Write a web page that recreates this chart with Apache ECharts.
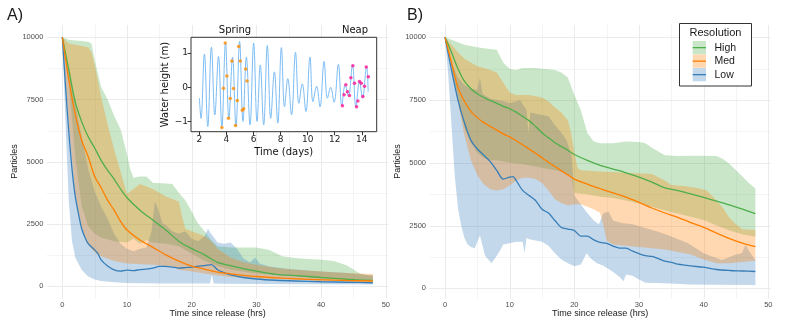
<!DOCTYPE html>
<html>
<head>
<meta charset="utf-8">
<script src="https://cdn.jsdelivr.net/npm/echarts/dist/echarts.min.js"></script>
<style>
  html, body { margin: 0; padding: 0; background: #fff; }
  #chart { width: 793px; height: 326px; }
</style>
</head>
<body>
<div id="chart"></div>
<script>
// grid ticks
const xMajor = [0, 10, 20, 30, 40, 50];
const xMinor = [5, 15, 25, 35, 45];
const yMajor = [0, 2500, 5000, 7500, 10000];
const yMinor = [1250, 3750, 6250, 8750];
const dayTicks = [2, 4, 6, 8, 10, 12, 14];
const heightTicks = [-1, 0, 1];

// panel A: mean lines [hours, particles]
const highLineA = [[0,10000],[1,8700],[2,7400],[3,6600],[4,6000],[5,5550],[6,5050],[7,4650],[8,4300],[9,3900],[10,3550],[12,3050],[14,2650],[16,2250],[18,1800],[20,1500],[22,1250],[24,950],[26,820],[28,700],[30,600],[33,470],[36,420],[40,340],[44,270],[48,220]];
const medLineA = [[0,10000],[1,8300],[2,6900],[3,5850],[4,5200],[5,4400],[6,3950],[7,3450],[8,3050],[9,2600],[10,2250],[12,1850],[14,1550],[16,1250],[18,1000],[20,800],[22,680],[24,560],[26,490],[28,430],[30,380],[33,330],[36,290],[40,250],[44,220],[48,200]];
const lowLineA = [[0,10000],[0.5,8000],[1,6200],[1.5,4700],[2,3600],[2.5,2900],[3,2300],[3.5,1950],[4,1700],[5,1450],[5.5,1300],[6,1050],[7,800],[8,650],[9,600],[10,640],[11,620],[12,660],[13,680],[14,720],[15,790],[16,790],[17,760],[18,720],[19,740],[20,760],[21,800],[22,820],[23,860],[23.5,780],[24,650],[25,540],[26,450],[28,340],[30,280],[33,230],[36,200],[40,170],[44,150],[48,130]];

// panel A: ribbons
const highHiA = [[0,10000],[1,9900],[2,9870],[3,9850],[4,9820],[4.5,9750],[5,9100],[6,8000],[7,7500],[8,6850],[9,6300],[10,5300],[10.5,4700],[11,4350],[12,4400],[13,4400],[14,4150],[16,4120],[17,4100],[18,3750],[19,3450],[20,3000],[21,2500],[22,2200],[23,1850],[24,1600],[26,1550],[28,1550],[30,1550],[32,1450],[34,1200],[36,1120],[38,1080],[40,1050],[42,1000],[44,820],[46,500],[47,430],[48,420]];
const highLoA = [[0,10000],[1,8200],[2,5200],[3,3200],[4,2400],[5,2100],[6,1950],[8,1800],[10,1750],[11,1900],[12,1700],[13,1850],[14,1750],[16,1700],[18,1600],[20,1300],[22,1000],[24,800],[26,650],[30,500],[35,400],[40,320],[48,250]];
const medHiA = [[0,10000],[1,9750],[2,9700],[3,9650],[4,9600],[4.5,9400],[5,8900],[6,7600],[7,6500],[8,5500],[9,4600],[10,3700],[11,3900],[12,4100],[13,4000],[14,3900],[15,3750],[16,3600],[17,3500],[18,3400],[18.5,2800],[19,2300],[20,2200],[21,2100],[22,2000],[23,1800],[24,1500],[26,1150],[28,950],[30,850],[33,720],[36,650],[40,580],[44,520],[48,480]];
const medLoA = [[0,10000],[1,6500],[2,3700],[3,2300],[4,1650],[5,1350],[6,1200],[8,1000],[10,900],[14,850],[17,780],[18,650],[20,580],[22,500],[24,420],[26,360],[30,300],[36,250],[40,220],[48,180]];
const lowHiA = [[0,10000],[1,8700],[2,7300],[3,6000],[4,4700],[5,3800],[6,3200],[7,2700],[8,2100],[9,1700],[10,1500],[11,1400],[12,1500],[13,1550],[13.8,2200],[14.3,3400],[14.8,3100],[15.5,2500],[16,2450],[17,2200],[18,2100],[19,2200],[20,1900],[21,1800],[22,2000],[22.5,2300],[23,2100],[24,1750],[25,1700],[26,1750],[27,1500],[28,1100],[29,950],[29.8,1150],[30.5,900],[32,780],[35,680],[40,580],[44,520],[48,420]];
const lowLoA = [[0,10000],[0.5,6500],[1,3400],[1.5,1800],[2,1150],[3,640],[4,380],[5,260],[6,200],[8,150],[10,120],[15,100],[20,100],[22.8,100],[23.1,450],[23.4,100],[25,90],[30,80],[40,70],[48,60]];

// panel B: mean lines
const highLineB = [[0,10000],[1,9400],[2,8750],[3,8250],[4,7950],[5,7750],[6,7600],[7,7480],[8,7370],[9,7250],[10,7150],[11,7020],[12,6850],[13,6680],[14,6450],[15,6200],[16,6000],[17,5800],[18,5650],[19,5500],[20,5330],[22,5100],[24,4900],[26,4750],[28,4600],[30,4430],[32,4230],[34,4000],[36,3890],[38,3760],[40,3620],[42,3470],[44,3320],[46,3150],[48,2980]];
const medLineB = [[0,10000],[1,9000],[2,8000],[3,7450],[4,7050],[5,6800],[6,6600],[7,6450],[8,6300],[9,6150],[10,6030],[11,5880],[12,5720],[13,5550],[14,5380],[15,5200],[16,5020],[17,4850],[18,4680],[19,4520],[20,4350],[22,4150],[24,3970],[26,3800],[28,3630],[30,3420],[32,3200],[34,3000],[36,2830],[38,2620],[40,2430],[42,2200],[44,1980],[46,1800],[48,1660]];
const lowLineB = [[0,10000],[1,8700],[2,7500],[3,6600],[4,5900],[5,5550],[6,5300],[7,5050],[8,4700],[9,4350],[10,4430],[10.5,4450],[11,4300],[12,3900],[13,3700],[14,3500],[15,3150],[16,3000],[17,2700],[18,2420],[19,2360],[20,2300],[21,2080],[22,2080],[23,1930],[24,1830],[25,1790],[26,1680],[27,1600],[28,1600],[29,1480],[30,1380],[31,1300],[32,1270],[33,1180],[34,1080],[35,1030],[36,960],[38,890],[40,840],[42,750],[44,710],[46,690],[48,670]];

// panel B: ribbons
const highHiB = [[0,10000],[1,9900],[2,9800],[3,9700],[4,9650],[5,9600],[6,9560],[7,9530],[8,9500],[8.5,9250],[9,9000],[10,8750],[11,8700],[12,8780],[14,8780],[16,8730],[17,8700],[18,8600],[19,8400],[20,7700],[21,7100],[22,6200],[23,5850],[24,5780],[26,5780],[28,5850],[30,5830],[31,5780],[32,5600],[33,5450],[34,5300],[36,5270],[38,5280],[40,5280],[42,5270],[43,5150],[44,4950],[45,4700],[46,4450],[47,4200],[48,3980]];
const highLoB = [[0,10000],[1,8800],[2,7500],[3,6400],[4,5800],[5,5400],[6,5200],[7,5100],[8,5100],[9,5050],[10,5000],[12,4950],[14,4850],[16,4750],[18,4650],[19.5,4500],[20,3800],[22,3750],[24,3650],[26,3600],[28,3500],[30,3380],[32,3250],[34,3100],[36,2980],[38,2850],[40,2720],[42,2500],[44,2300],[46,2150],[48,2050]];
const medHiB = [[0,10000],[1,9700],[2,9400],[3,9150],[4,9000],[5,8850],[6,8780],[7,8700],[8,8600],[9,8200],[10,7800],[11,7700],[13,7700],[15,7600],[16,7450],[17,7200],[18,7000],[19,6700],[19.5,6200],[20,5400],[20.5,4800],[21,4700],[24,4650],[28,4600],[32,4550],[34,4300],[35,4120],[37,4080],[39,4000],[40.5,3900],[42,3500],[43,3200],[44,2800],[45,2550],[46,2350],[48,2320]];
const medLoB = [[0,10000],[1,8800],[2,7400],[3,6100],[4,5100],[5,4500],[6,4150],[7,3950],[8,3900],[9,3950],[10,4100],[11,4300],[12,4400],[13,4400],[14,4350],[15,4200],[16,3900],[17,3550],[18,3400],[19,3300],[20,3350],[21,3350],[22,3250],[23,3150],[24,3000],[24.5,2500],[25,1900],[26,1750],[28,1700],[30,1650],[32,1600],[34,1550],[36,1450],[38,1350],[40,1150],[42,1000],[44,1000],[46,1050],[48,1100]];
const lowHiB = [[0,10000],[0.5,9500],[1,9000],[2,8400],[3,8100],[4,7950],[5,7900],[5.4,8400],[5.8,7750],[7,7550],[8,7500],[9,7450],[10,7370],[11,7450],[11.6,7500],[12.6,7100],[12.9,6200],[13.2,7000],[14,6950],[15,6900],[16,6850],[17,6500],[18,6200],[18.8,5900],[19.6,5250],[20,3700],[21,3350],[22,3000],[23,2700],[23.8,2550],[24.5,3000],[25.3,3050],[26,2700],[27.3,2600],[29,2550],[31,2400],[33,2250],[35,2060],[37.6,1800],[40,1400],[42.8,1130],[44,1250],[45,1350],[45.9,1400],[46.5,1750],[47,1500],[48,1130]];
const lowLoB = [[0,10000],[0.5,8500],[1,6500],[1.5,4500],[2,3200],[2.5,2500],[3,2000],[3.5,1750],[4,1650],[4.6,1600],[5.4,2100],[6.2,1300],[7.2,1000],[8,1300],[8.5,1500],[9,1750],[10,1800],[11,1850],[12,1850],[12.3,1400],[12.6,2000],[13,1950],[14,1900],[15,1850],[16,1700],[17,1400],[18,1150],[19,1000],[20,880],[21,950],[21.9,1400],[22.5,1200],[23.5,1000],[24.5,900],[26,650],[27,450],[27.6,280],[28,550],[29,500],[30,350],[31,220],[34,200],[38,150],[42,140],[48,130]];

// inset: water height [days, m] at turning points, and sampled points
const tideCurve = [[2.00,-0.32],[2.12,-0.91],[2.37,0.97],[2.62,-1.15],[2.89,1.17],[3.14,-0.81],[3.41,0.90],[3.66,-1.15],[3.93,1.29],[4.18,-0.91],[4.45,0.88],[4.70,-1.15],[4.97,1.34],[5.22,-1.00],[5.47,0.88],[5.74,-1.10],[6.01,1.29],[6.26,-1.00],[6.50,0.65],[6.75,-1.10],[7.02,1.22],[7.27,-0.91],[7.54,0.45],[7.79,-1.05],[8.06,1.16],[8.29,-0.57],[8.53,0.25],[8.81,-0.81],[9.10,1.02],[9.35,-0.47],[9.60,0.10],[9.87,-0.71],[10.17,0.88],[10.39,-0.42],[10.66,0.03],[10.91,-0.57],[11.21,0.75],[11.46,-0.32],[11.70,0.00],[11.95,-0.44],[12.27,0.67],[12.52,-0.54],[12.77,0.07],[13.01,-0.27],[13.31,0.65],[13.56,-0.57],[13.83,0.17],[14.05,-0.32],[14.35,0.60],[14.47,-0.13]];
const springPts = [[3.66,-1.18],[3.78,-0.03],[3.91,1.29],[4.03,0.33],[4.15,-0.91],[4.28,-0.33],[4.40,0.77],[4.52,-0.04],[4.67,-1.12],[4.80,-0.39],[4.90,1.19],[5.02,0.77],[5.17,-0.67],[5.27,-0.63],[5.42,0.53],[5.52,0.18]];
const neapPts = [[12.57,-0.54],[12.69,-0.22],[12.82,0.07],[12.94,-0.13],[13.09,-0.24],[13.19,0.28],[13.34,0.63],[13.46,0.12],[13.61,-0.57],[13.71,-0.40],[13.83,0.17],[13.96,0.12],[14.08,-0.27],[14.20,0.03],[14.33,0.59],[14.48,0.31]];

const GREEN = '#4daf4a', ORANGE = '#ff7f00', BLUE = '#377eb8';
const FILL = { g: 'rgba(77,175,74,0.3)', o: 'rgba(255,127,0,0.3)', b: 'rgba(55,126,184,0.3)' };
const SANS = '"Liberation Sans", Arial, sans-serif';
const DEJAVU = '"DejaVu Sans", sans-serif';

const chart = echarts.init(document.getElementById('chart'), null, { renderer: 'canvas' });

const gridLines = (gi, vals, vertical, color) => ({
  type: 'custom', xAxisIndex: gi, yAxisIndex: gi, z: 1, silent: true,
  data: vals.map((v) => (vertical ? [v, 0] : [0, v])),
  renderItem: (params, api) => {
    const cs = params.coordSys;
    const p = api.coord([api.value(0), api.value(1)]);
    if (vertical) {
      const x = Math.round(p[0]) + 0.5;
      return { type: 'line', shape: { x1: x, y1: cs.y, x2: x, y2: cs.y + cs.height }, style: { stroke: color, lineWidth: 1 } };
    }
    const y = Math.round(p[1]) + 0.5;
    return { type: 'line', shape: { x1: cs.x, y1: y, x2: cs.x + cs.width, y2: y }, style: { stroke: color, lineWidth: 1 } };
  },
});

const band = (gi, hi, lo, fill) => {
  const ring = hi.concat(lo.slice().reverse());
  return {
    type: 'custom', xAxisIndex: gi, yAxisIndex: gi, z: 2, silent: true,
    data: ring,
    renderItem: (params, api) => {
      if (params.dataIndex !== 0) return null;
      return { type: 'polygon', shape: { points: ring.map((p) => api.coord(p)) }, style: { fill: fill } };
    },
  };
};

const meanLine = (gi, data, color) => ({
  type: 'line', xAxisIndex: gi, yAxisIndex: gi, z: 3, silent: true,
  data: data, showSymbol: false, symbol: 'none', smooth: 0.3,
  lineStyle: { color: color, width: 1.3 },
});

const mainX = (gi, min, max) => ({
  gridIndex: gi, type: 'value', min: min, max: max,
  axisLine: { show: false, onZero: false }, axisTick: { show: false }, splitLine: { show: false },
  axisLabel: { customValues: xMajor, color: '#4d4d4d', fontSize: 7.5, fontFamily: SANS, margin: 3,
    formatter: (v) => String(v) },
});
const mainY = (gi, min, max) => ({
  gridIndex: gi, type: 'value', min: min, max: max,
  axisLine: { show: false, onZero: false }, axisTick: { show: false }, splitLine: { show: false },
  axisLabel: { customValues: yMajor, color: '#4d4d4d', fontSize: 7.5, fontFamily: SANS, margin: 3.5,
    formatter: (v) => String(v) },
});

const txt = (text, x, y, size, opts) => Object.assign({
  type: 'text', x: x, y: y, z: 20,
  style: { text: text, fill: '#1a1a1a', font: size + 'px ' + SANS, align: 'center', verticalAlign: 'middle', textAlign: 'center', textVerticalAlign: 'middle' },
}, opts || {});
const dtxt = (text, x, y, opts) => Object.assign({
  type: 'text', x: x, y: y, z: 20,
  style: { text: text, fill: '#111', font: '10px ' + DEJAVU, align: 'center', verticalAlign: 'middle', textAlign: 'center', textVerticalAlign: 'middle' },
}, opts || {});

const legendItems = [['High', GREEN, FILL.g], ['Med', ORANGE, FILL.o], ['Low', BLUE, FILL.b]];
const legendGraphics = [
  { type: 'rect', z: 20, shape: { x: 679.5, y: 23.5, width: 72, height: 62.5 }, style: { fill: '#fff', stroke: '#333', lineWidth: 1 } },
  txt('Resolution', 715.5, 33, 11),
];
legendItems.forEach((it, i) => {
  const y0 = 41 + i * 13.5;
  legendGraphics.push({ type: 'rect', z: 21, shape: { x: 692.7, y: y0, width: 13.3, height: 13.3 }, style: { fill: it[2] } });
  legendGraphics.push({ type: 'line', z: 22, shape: { x1: 692.7, y1: y0 + 6.65, x2: 706, y2: y0 + 6.65 }, style: { stroke: it[1], lineWidth: 1.3 } });
  legendGraphics.push({ type: 'text', x: 714.5, y: y0 + 7, z: 22,
    style: { text: it[0], fill: '#1a1a1a', font: '10.5px ' + SANS, align: 'left', verticalAlign: 'middle', textAlign: 'left', textVerticalAlign: 'middle' } });
});

chart.setOption({
  animation: false,
  backgroundColor: '#fff',
  grid: [
    { left: 46.8, top: 24.9, width: 341.6, height: 273.5 },
    { left: 429.5, top: 24.9, width: 341.4, height: 273.5 },
    { left: 191, top: 37.3, width: 185.7, height: 94.4, show: true, backgroundColor: '#fff', borderColor: '#333', borderWidth: 1, z: 5 },
  ],
  xAxis: [
    mainX(0, -2.4, 50.4),
    mainX(1, -2.4, 50.4),
    {
      gridIndex: 2, type: 'value', min: 1.38, max: 15.1, z: 6, position: 'bottom',
      axisLine: { show: false, onZero: false }, splitLine: { show: false },
      axisTick: { show: true, customValues: dayTicks, length: 3.5, lineStyle: { color: '#333', width: 1 } },
      axisLabel: { customValues: dayTicks, color: '#222', fontSize: 9, fontFamily: DEJAVU, margin: 3 },
    },
  ],
  yAxis: [
    mainY(0, -500, 10500),
    mainY(1, -402, 10494),
    {
      gridIndex: 2, type: 'value', min: -1.30, max: 1.46, z: 6, position: 'left',
      axisLine: { show: false, onZero: false }, splitLine: { show: false },
      axisTick: { show: true, customValues: heightTicks, length: 3.5, lineStyle: { color: '#333', width: 1 } },
      axisLabel: { customValues: heightTicks, color: '#222', fontSize: 9, fontFamily: DEJAVU, margin: 3,
        formatter: (v) => (v < 0 ? '\u2212' + Math.abs(v) : String(v)) },
    },
  ],
  series: [
    gridLines(0, xMinor, true, '#f4f4f4'), gridLines(0, yMinor, false, '#f4f4f4'),
    gridLines(0, xMajor, true, '#ebebeb'), gridLines(0, yMajor, false, '#ebebeb'),
    gridLines(1, xMinor, true, '#f4f4f4'), gridLines(1, yMinor, false, '#f4f4f4'),
    gridLines(1, xMajor, true, '#ebebeb'), gridLines(1, yMajor, false, '#ebebeb'),

    band(0, highHiA, highLoA, FILL.g), band(0, lowHiA, lowLoA, FILL.b), band(0, medHiA, medLoA, FILL.o),
    meanLine(0, highLineA, GREEN), meanLine(0, lowLineA, BLUE), meanLine(0, medLineA, ORANGE),

    band(1, highHiB, highLoB, FILL.g), band(1, lowHiB, lowLoB, FILL.b), band(1, medHiB, medLoB, FILL.o),
    meanLine(1, highLineB, GREEN), meanLine(1, lowLineB, BLUE), meanLine(1, medLineB, ORANGE),

    { type: 'line', xAxisIndex: 2, yAxisIndex: 2, z: 7, silent: true, data: tideCurve, showSymbol: false, symbol: 'none',
      smooth: 0.4, lineStyle: { color: '#7dbdf5', width: 1 } },
    { type: 'scatter', xAxisIndex: 2, yAxisIndex: 2, z: 8, silent: true, data: springPts, symbolSize: 3.5,
      itemStyle: { color: '#ff8c00' } },
    { type: 'scatter', xAxisIndex: 2, yAxisIndex: 2, z: 8, silent: true, data: neapPts, symbolSize: 3.5,
      itemStyle: { color: '#ff1493' } },
  ],
  graphic: [
    txt('A)', 15, 16, 16),
    txt('B)', 415, 16, 16),
    txt('Particles', 15, 161.6, 9, { rotation: Math.PI / 2 }),
    txt('Particles', 398, 161.6, 9, { rotation: Math.PI / 2 }),
    txt('Time since release (hrs)', 217.6, 314, 9),
    txt('Time since release (hrs)', 600.2, 314, 9),
    dtxt('Spring', 235, 30),
    dtxt('Neap', 355, 30),
    dtxt('Water height (m)', 165.7, 84.5, { rotation: Math.PI / 2 }),
    dtxt('Time (days)', 283.7, 152.7),
  ].concat(legendGraphics),
});
</script>
</body>
</html>
